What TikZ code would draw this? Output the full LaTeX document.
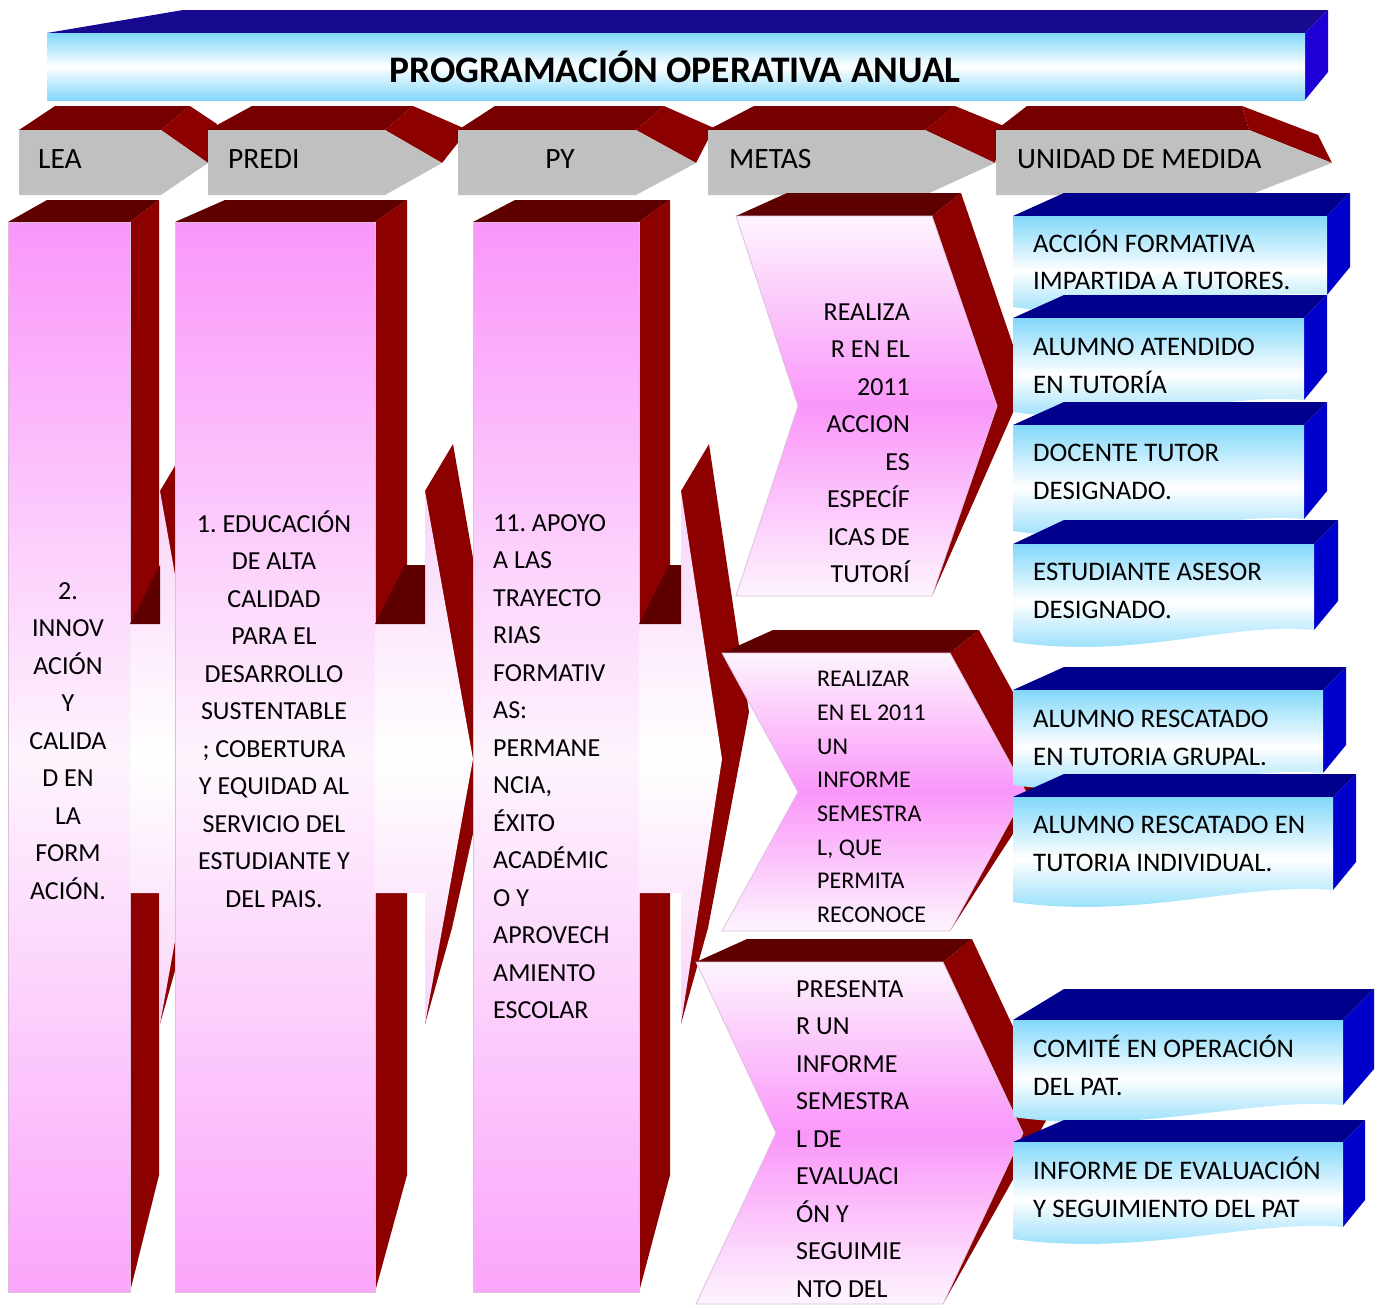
\documentclass[tikz,border=0pt]{standalone}
\usepackage{fontspec}
\setmainfont{Carlito}
\usetikzlibrary{positioning}

\definecolor{navytop}{RGB}{23,10,145}
\definecolor{navyside}{RGB}{28,0,214}
\definecolor{boxtop}{RGB}{0,0,140}
\definecolor{boxside}{RGB}{0,0,205}
\definecolor{skyblue}{RGB}{130,216,250}
\definecolor{redside}{RGB}{140,0,0}
\definecolor{redtop}{RGB}{94,0,0}
\definecolor{hdrtop}{RGB}{118,0,0}
\definecolor{hdrgray}{RGB}{192,192,192}
\definecolor{pinkdeep}{RGB}{250,150,250}
\definecolor{pinkpale}{RGB}{253,244,253}
\definecolor{pinkband}{RGB}{249,212,249}
\definecolor{pinkline}{RGB}{222,190,222}

\begin{document}
\frenchspacing
\begin{tikzpicture}[x=1pt, y=-1pt,
    txt/.style={font=\fontsize{26}{37.5}\selectfont, inner sep=0pt},
    smalltxt/.style={font=\fontsize{24}{33.7}\selectfont, inner sep=0pt},
    unittxt/.style={font=\fontsize{26.8}{37.8}\selectfont, inner sep=0pt},
    hdrtxt/.style={font=\fontsize{29.5}{34}\selectfont, inner sep=0pt},
    pinkcol/.style={top color=pinkdeep, bottom color=pinkdeep!85!white, middle color=pinkpale, draw=pinkline, line width=0.8pt},
    pinkchev/.style={top color=pinkpale, bottom color=pinkpale, middle color=pinkdeep, draw=pinkline, line width=0.8pt},
    bluefront/.style={top color=skyblue, bottom color=skyblue, middle color=white}]
    \useasboundingbox (0,0) rectangle (1383,1307);
    \clip (0,0) rectangle (1383,1307);

    % Title banner
    \fill[navytop] (47,33) -- (183,10) -- (1328,10) -- (1305,33) -- cycle;
    \fill[navyside] (1305,33) -- (1328,10) -- (1328,72) -- (1305,100) -- cycle;
    \shade[bluefront] (47,33) rectangle (1305,100);
    \node[font=\fontsize{37.5}{40}\selectfont\bfseries, inner sep=0pt, anchor=base] (title) at (675,82) {PROGRAMACIÓN OPERATIVA ANUAL};

    % Header arrows
    \foreach \xa/\xb/\xt/\bl/\br/\px/\py in {19/161/208/55/190/217/124, 208/385/442/252/413/468/130,
        458/636/696/495/664/714/128, 708/925/995/754/955/1004/126, 996/1249/1332/1027/1242/1318/135} {
        \fill[hdrtop] (\xa,130) -- (\bl,106) -- (\br,106) -- (\xb,130) -- cycle;
        \fill[redside] (\xb,130) -- (\br,106) -- (\px,\py) -- (\xt,163) -- cycle;
        \fill[hdrgray] (\xa,130) -- (\xb,130) -- (\xt,163) -- (\xb,195) -- (\xa,195) -- cycle;
    }
    \node[hdrtxt, anchor=base west] (lea) at (38,168) {LEA};
    \node[hdrtxt, anchor=base west] (predi) at (228,168) {PREDI};
    \node[hdrtxt, anchor=base] (py) at (560,168) {PY};
    \node[hdrtxt, anchor=base west] (metas) at (729,168) {METAS};
    \node[hdrtxt, anchor=base west] (unidad) at (1017,168) {UNIDAD DE MEDIDA};

    % Columns, each with its arrow to the right
    \foreach \xa/\xb/\xc/\xd/\hx/\tx in {8/130/159/47/160/208, 175/375/407/225/425/473, 473/639/670/515/681/722} {
        \fill[redtop] (\xa,222) -- (\xd,200) -- (\xc,200) -- (\xb,222) -- cycle;
        \fill[redside] (\xb,222) -- (\xc,200) -- (\xc,1175) -- (\xb,1292) -- cycle;
        \shadedraw[pinkcol] (\xa,222) rectangle (\xb,1292);
        % arrow
        \fill[redside] (\hx,491) -- (\hx+28,444) -- (\tx+27,712) -- (\hx+27,928) -- (\hx,1024) -- cycle;
        \shade[top color=pinkband, bottom color=pinkband, middle color=white] (\xb,624) -- (\hx,624) -- (\hx,491)
            -- (\tx,759) -- (\hx,1024) -- (\hx,893) -- (\xb,893) -- cycle;
        \fill[redtop] (\xb,624) -- (\xb+30,565) -- (\hx,565) -- (\hx,624) -- cycle;
    }
    \node[txt, align=center] (lea-txt) at (68,741) {2.\\INNOV\\ACIÓN\\Y\\CALIDA\\D EN\\LA\\FORM\\ACIÓN.};
    \node[txt, align=center] (predi-txt) at (274,709) {1. EDUCACIÓN\\DE ALTA\\CALIDAD\\PARA EL\\DESARROLLO\\SUSTENTABLE\\; COBERTURA\\Y EQUIDAD AL\\SERVICIO DEL\\ESTUDIANTE Y\\DEL PAIS.};
    \node[txt, align=left, anchor=west] (py-txt) at (493,766.5) {11. APOYO\\A LAS\\TRAYECTO\\RIAS\\FORMATIV\\AS:\\PERMANE\\NCIA,\\ÉXITO\\ACADÉMIC\\O Y\\APROVECH\\AMIENTO\\ESCOLAR};

    % Goals (chevrons)
    \foreach \xa/\xn/\xr/\xt/\yt/\ym/\yb in {736/798/932/997/216/406/596, 722/798/950/1026/653/792/931, 696/776/943/1023/962/1133/1304} {
        \fill[redtop] (\xa,\yt) -- (\xa+51,\yt-23) -- (\xr+29,\yt-23) -- (\xr,\yt) -- cycle;
        \fill[redside] (\xr,\yt) -- (\xr+29,\yt-23) -- (\xt+29,\ym-23) -- (\xr,\yb) -- cycle;
        \shadedraw[pinkchev] (\xa,\yt) -- (\xr,\yt) -- (\xt,\ym) -- (\xr,\yb) -- (\xa,\yb) -- (\xn,\ym) -- cycle;
    }
    \node[txt, align=right, anchor=east] (meta1) at (910,443) {REALIZA\\R EN EL\\2011\\ACCION\\ES\\ESPECÍF\\ICAS DE\\TUTORÍ};
    \node[smalltxt, align=left, anchor=west] (meta2) at (817,797) {REALIZAR\\EN EL 2011\\UN\\INFORME\\SEMESTRA\\L, QUE\\PERMITA\\RECONOCE};
    \node[txt, align=left, anchor=west] (meta3) at (796,1139) {PRESENTA\\R UN\\INFORME\\SEMESTRA\\L DE\\EVALUACI\\ÓN Y\\SEGUIMIE\\NTO DEL};

    % Units (blue boxes)
    \foreach \yt/\xr/\yb/\d/\ty/\txt [count=\i] in {
        216/1327/295/23/260/{ACCIÓN FORMATIVA\\IMPARTIDA A TUTORES.},
        318/1304/400/23/365.5/{ALUMNO ATENDIDO\\EN TUTORÍA},
        425/1304/519/23/472/{DOCENTE TUTOR\\DESIGNADO.},
        544/1314/630/24/591/{ESTUDIANTE ASESOR\\DESIGNADO.},
        690/1323/773/23/738/{ALUMNO RESCATADO\\EN TUTORIA GRUPAL.},
        797/1333/890/23/844/{ALUMNO RESCATADO EN\\TUTORIA INDIVIDUAL.},
        1020/1343/1105/31/1065/{COMITÉ EN OPERACIÓN\\DEL PAT.},
        1142/1343/1227/22/1187/{INFORME DE EVALUACIÓN\\Y SEGUIMIENTO DEL PAT}} {
        \fill[boxtop] (1013,\yt) -- (1064,\yt-\d) -- (\xr+\d,\yt-\d) -- (\xr,\yt) -- cycle;
        \fill[boxside] (\xr,\yt) -- (\xr+\d,\yt-\d) -- (\xr+\d,\yb-\d-5) -- (\xr,\yb) -- cycle;
        \shade[bluefront] (1013,\yt) -- (\xr,\yt) -- (\xr,\yb)
            .. controls (\xr-90,\yb-8) and (1140,\yb+30) .. (1013,\yb+12) -- cycle;
        \node[unittxt, align=left, anchor=west] (unit\i) at (1033,\ty) {\txt};
    }
\end{tikzpicture}
\end{document}
